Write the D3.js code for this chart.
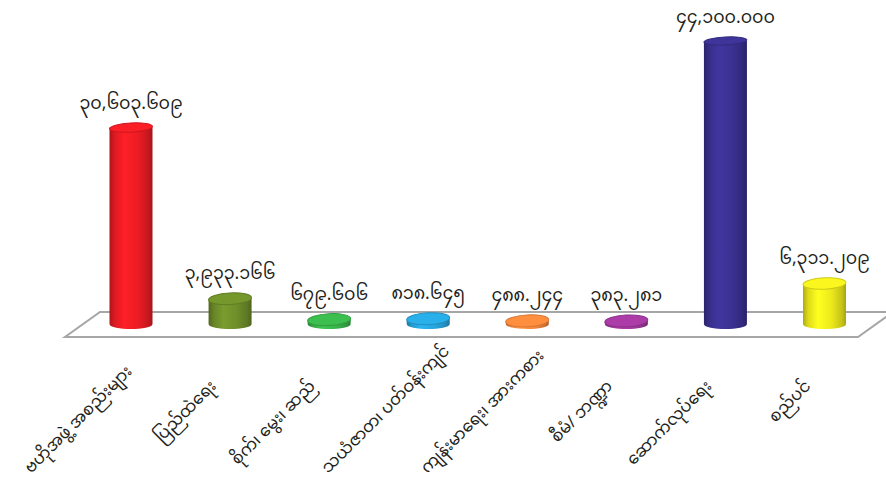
<!DOCTYPE html>
<html>
<head>
<meta charset="utf-8">
<script src="https://cdn.jsdelivr.net/npm/d3@7"></script>
<style>
  html, body { margin: 0; padding: 0; background: #ffffff; }
  svg { display: block; }
  text { font-family: "Noto Sans Myanmar", "Noto Sans Myanmar UI", "Padauk", "Myanmar Text", "Myanmar3", "Noto Sans", sans-serif; fill: #231f20; }
</style>
</head>
<body>
<svg id="chart" width="886" height="485"></svg>
<script>
// ---- data ----
const categories = [
  "ဗဟိုအဖွဲ့ အစည်းများ",
  "ပြည်ထဲရေး",
  "စိုက်၊ မွေး၊ ဆည်",
  "သယံဇာတ၊ ပတ်ဝန်းကျင်",
  "ကျန်းမာရေး၊ အားကစား",
  "စီမံ/ ဘဏ္ဍာ",
  "ဆောက်လုပ်ရေး",
  "စည်ပင်"
];
const values = [30603.609, 3933.166, 679.606, 818.645, 488.244, 383.281, 44100.000, 6311.209];
const valueLabels = [
  "၃၀,၆၀၃.၆၀၉",
  "၃,၉၃၃.၁၆၆",
  "၆၇၉.၆၀၆",
  "၈၁၈.၆၄၅",
  "၄၈၈.၂၄၄",
  "၃၈၃.၂၈၁",
  "၄၄,၁၀၀.၀၀၀",
  "၆,၃၁၁.၂၀၉"
];
const colors = ["#ed1c24", "#6f8f2a", "#39b54a", "#27a6de", "#f7883c", "#a2399f", "#3b3192", "#eeea1c"];

// ---- layout ----
const W = 886, H = 485;
const svg = d3.select("#chart");
const defs = svg.append("defs");

const x = d3.scalePoint().domain(categories).range([131, 824.5]).padding(0);
const y = d3.scaleLinear().domain([0, d3.max(values)]).range([324, 41]);

const rx = 21.5;

// floor (perspective parallelogram)
const floorBackY = 312, floorFrontY = 337;
const floorPts = [[100, floorBackY], [893, floorBackY], [858, floorFrontY], [65, floorFrontY]];
svg.append("polygon")
  .attr("points", floorPts.map(p => p.join(",")).join(" "))
  .attr("fill", "#ffffff")
  .attr("stroke", "#a6a6a6")
  .attr("stroke-width", 2);

// gradients
colors.forEach((c, i) => {
  const base = d3.color(c);
  const g = defs.append("linearGradient").attr("id", "g" + i)
    .attr("x1", "0%").attr("x2", "100%").attr("y1", "0%").attr("y2", "0%");
  [[0, base.darker(0.9)], [0.12, base.darker(0.2)], [0.35, base.brighter(0.25)], [0.65, base], [0.9, base.darker(0.5)], [1, base.darker(1.0)]]
    .forEach(([o, col]) => g.append("stop").attr("offset", o).attr("stop-color", col.formatHex()));
});

const bars = svg.append("g").selectAll("g.bar")
  .data(categories.map((c, i) => ({ c, v: values[i], lab: valueLabels[i], col: colors[i], i })))
  .join("g").attr("class", "bar");

bars.each(function(d) {
  const g = d3.select(this);
  const cx = x(d.c);
  const y0 = y(0);
  let yt = y(d.v);
  if (y0 - yt < 3) yt = y0 - 3;
  const frac = d.v / d3.max(values);
  const ryTop = 4 + 2 * (1 - frac);
  const ryBot = 5;
  const path = d3.path();
  path.moveTo(cx - rx, yt);
  path.lineTo(cx - rx, y0);
  path.bezierCurveTo(cx - rx, y0 + ryBot * 1.33, cx + rx, y0 + ryBot * 1.33, cx + rx, y0);
  path.lineTo(cx + rx, yt);
  path.closePath();
  g.append("path").attr("d", path.toString()).attr("fill", `url(#g${d.i})`);
  const base = d3.color(d.col);
  g.append("ellipse")
    .attr("cx", cx).attr("cy", yt).attr("rx", rx).attr("ry", ryTop)
    .attr("fill", base.brighter(0.15).formatHex())
    .attr("stroke", base.darker(0.4).formatHex())
    .attr("stroke-width", 1)
    .attr("transform", `rotate(-3 ${cx} ${yt})`);
  g.append("text")
    .attr("x", cx).attr("y", yt - ryTop - 14)
    .attr("text-anchor", "middle")
    .attr("font-size", 17.5)
    .text(d.lab);
});

// category labels rotated -45°, shifted up along the diagonal if their box would leave the picture
svg.append("g").selectAll("text.cat")
  .data(categories)
  .join("text").attr("class", "cat")
  .attr("text-anchor", "end")
  .attr("font-size", 16.5)
  .text(d => d)
  .each(function(d) {
    const el = d3.select(this);
    let ax = x(d) - 13, ay = 387;
    el.attr("transform", `translate(${ax},${ay}) rotate(-45)`);
    const r = this.getBoundingClientRect();
    const dlt = Math.max(0, r.bottom - (H - 1), 1 - r.left);
    if (dlt > 0) {
      ax += dlt; ay -= dlt;
      el.attr("transform", `translate(${ax},${ay}) rotate(-45)`);
    }
  });
</script>
</body>
</html>
